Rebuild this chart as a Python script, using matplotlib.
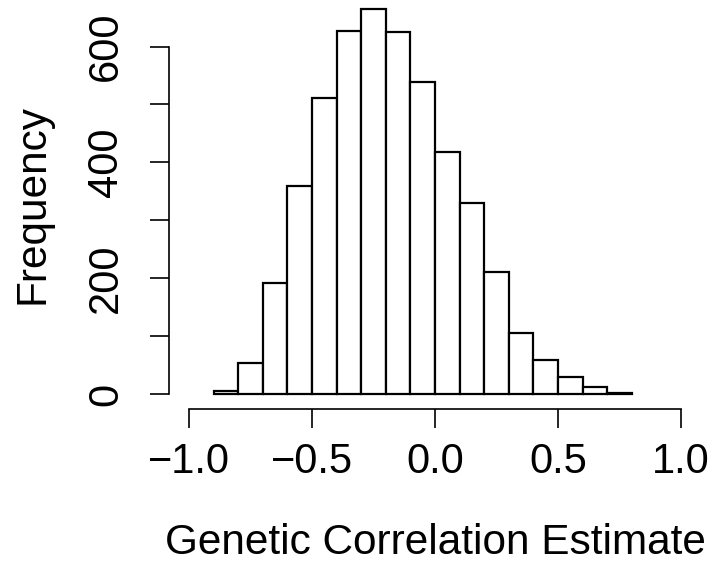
"""
Histogram of genetic correlation estimates, base-R look.
"""

import matplotlib
matplotlib.use("Agg")
import matplotlib.pyplot as plt

plt.rcParams["font.family"] = ["Liberation Sans", "DejaVu Sans"]

# ---------------------------------------------------------------------------
# Data (bin edges and counts)
# ---------------------------------------------------------------------------
bin_edges = [-0.9, -0.8, -0.7, -0.6, -0.5, -0.4, -0.3, -0.2, -0.1, 0.0,
             0.1, 0.2, 0.3, 0.4, 0.5, 0.6, 0.7, 0.8]
counts = [5, 53, 191, 360, 511, 627, 665, 625, 539, 418,
          329, 211, 106, 59, 30, 12, 2]

x_ticks = [-1.0, -0.5, 0.0, 0.5, 1.0]
x_ticklabels = ["\u22121.0", "\u22120.5", "0.0", "0.5", "1.0"]
y_ticks = [0, 100, 200, 300, 400, 500, 600]
y_ticklabels = ["0", "", "200", "", "400", "", "600"]

W, H = 716, 567
fig = plt.figure(figsize=(W / 100, H / 100), dpi=100)
fig.patch.set_facecolor("white")

# plot region in pixels (left, right, top, bottom)
px_l, px_r, px_t, px_b = 169.3, 700.7, 0.0, 409.0
ax = fig.add_axes([px_l / W, 1 - px_b / H, (px_r - px_l) / W, (px_b - px_t) / H])

widths = [b - a for a, b in zip(bin_edges[:-1], bin_edges[1:])]
ax.bar(bin_edges[:-1], counts, width=widths, align="edge",
       color="white", edgecolor="black", linewidth=1.6)

ax.set_xlim(-1.08, 1.08)
ax.set_ylim(-26, 680.5)

for side in ["top", "right"]:
    ax.spines[side].set_visible(False)
ax.spines["bottom"].set_bounds(-1.0, 1.0)
ax.spines["left"].set_bounds(0, 600)
for side in ["bottom", "left"]:
    ax.spines[side].set_linewidth(1.2)

ax.set_xticks(x_ticks)
ax.set_xticklabels(x_ticklabels)
ax.set_yticks(y_ticks)
ax.set_yticklabels(y_ticklabels, rotation=90, va="center")
ax.tick_params(axis="both", direction="out", length=14, width=1.2, labelsize=30)
ax.tick_params(axis="x", pad=10)
ax.tick_params(axis="y", pad=17)

ax.set_xlabel("Genetic Correlation Estimate", fontsize=30.5, labelpad=29)
ax.set_ylabel("Frequency", fontsize=30.5, labelpad=24)

fig.savefig("out.png", dpi=100)
